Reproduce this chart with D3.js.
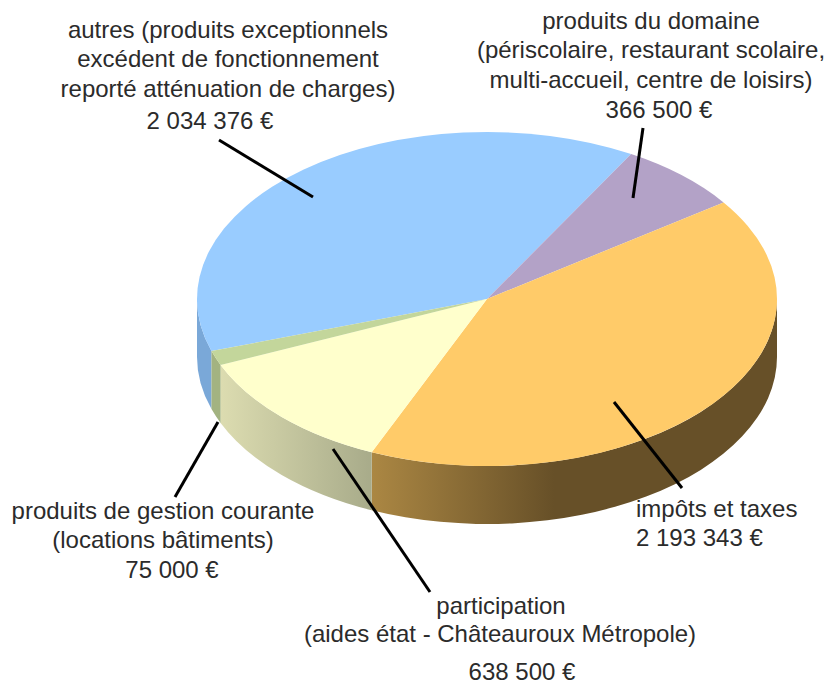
<!DOCTYPE html>
<html>
<head>
<meta charset="utf-8">
<script src="https://cdn.jsdelivr.net/npm/d3@7"></script>
<style>
    html, body { margin: 0; padding: 0; background: #fff; }
    text { font-family: "Liberation Sans", Arial, sans-serif; font-size: 24px; fill: #2b2b2b; }
</style>
</head>
<body>
<div id="chart"></div>
<script>
// values, clockwise from the blue slice
const categories = ["autres", "produits du domaine", "impôts et taxes", "participation", "produits de gestion courante"];
const values = [2034376, 366500, 2193343, 638500, 75000];
const topColors = ["#99ccff", "#b3a2c7", "#ffcb69", "#ffffcc", "#c3d69b"];

// rim colours run left to right across each slice
const rimStops = [
    [[0, "#7aa8d8"], [1, "#7aa8d8"]],
    [[0, "#8f82a0"], [1, "#8f82a0"]],
    [[0, "#ab8743"], [0.45, "#675028"], [1, "#675028"]],
    [[0, "#dcdcb0"], [1, "#a8ab8a"]],
    [[0, "#a3b381"], [1, "#a3b381"]]
];

const labelLines = [
    ["autres (produits exceptionnels", "excédent de fonctionnement", "reporté atténuation de charges)", "2 034 376 €"],
    ["produits du domaine", "(périscolaire, restaurant scolaire,", "multi-accueil, centre de loisirs)", "366 500 €"],
    ["impôts et taxes", "2 193 343 €"],
    ["participation", "(aides état - Châteauroux Métropole)", "638 500 €"],
    ["produits de gestion courante", "(locations bâtiments)", "75 000 €"]
];

const width = 840, height = 683;
const cx = 487, cy = 299, rx = 290, ry = 167, depth = 58;
const startDeg = 29.8;

const svg = d3.select("#chart").append("svg")
    .attr("width", width)
    .attr("height", height)
    .style("display", "block");

const pie = d3.pie().sort(null)
    .startAngle(startDeg * Math.PI / 180)
    .endAngle((startDeg + 360) * Math.PI / 180);
const slices = pie(values.slice(1).concat(values[0]));
// pie starts at the purple slice, so put the blue one back in first place
const arcs = [slices[4]].concat(slices.slice(0, 4));

const px = a => cx + rx * Math.sin(a);
const py = a => cy - ry * Math.cos(a);

const defs = svg.append("defs");
const x = d3.scaleLinear().domain([-1, 1]).range([cx - rx, cx + rx]);

// the rim only shows on the front half of the ellipse
function rimRange(d) {
    const a0 = Math.max(d.startAngle, Math.PI / 2);
    const a1 = Math.min(d.endAngle, 3 * Math.PI / 2);
    return a0 < a1 ? [a0, a1] : null;
}

function rimPath(r) {
    const [a0, a1] = r;
    return `M${px(a0)},${py(a0)}`
        + `A${rx},${ry} 0 0 1 ${px(a1)},${py(a1)}`
        + `L${px(a1)},${py(a1) + depth}`
        + `A${rx},${ry} 0 0 0 ${px(a0)},${py(a0) + depth}Z`;
}

const rims = svg.append("g");
arcs.forEach((d, i) => {
    const r = rimRange(d);
    if (!r) return;
    const xs = [x(Math.sin(r[0])), x(Math.sin(r[1]))];
    const grad = defs.append("linearGradient")
        .attr("id", "rim" + i)
        .attr("gradientUnits", "userSpaceOnUse")
        .attr("x1", d3.min(xs)).attr("x2", d3.max(xs))
        .attr("y1", 0).attr("y2", 0);
    rimStops[i].forEach(s => {
        grad.append("stop").attr("offset", s[0]).attr("stop-color", s[1]);
    });
    rims.append("path")
        .attr("d", rimPath(r))
        .attr("fill", `url(#rim${i})`);
});

// top face, a flat pie squashed into an ellipse
const arc = d3.arc().innerRadius(0).outerRadius(rx);
svg.append("g")
    .attr("transform", `translate(${cx},${cy}) scale(1,${ry / rx})`)
    .selectAll("path")
    .data(arcs)
    .enter().append("path")
    .attr("d", arc)
    .attr("fill", (d, i) => topColors[i]);

// leader lines
const leaders = [
    [219, 140, 313, 197],
    [643, 128, 633, 198],
    [614, 402, 682, 488],
    [333, 449, 430, 592],
    [218, 422, 175, 497]
];
svg.append("g").selectAll("line")
    .data(leaders)
    .enter().append("line")
    .attr("x1", d => d[0]).attr("y1", d => d[1])
    .attr("x2", d => d[2]).attr("y2", d => d[3])
    .attr("stroke", "#000")
    .attr("stroke-width", 3);

// labels: one entry per line as x, baseline
const labelPos = [
    [[228, 38], [228, 67], [228, 97], [210, 129]],
    [[651, 29], [651, 58], [651, 88], [659, 118]],
    [[636, 517], [636, 546]],
    [[501, 614], [500, 642], [522, 680]],
    [[163, 519], [163, 548], [172, 578]]
];
labelLines.forEach((lines, i) => {
    lines.forEach((t, j) => {
        svg.append("text")
            .attr("x", labelPos[i][j][0])
            .attr("y", labelPos[i][j][1])
            .attr("text-anchor", i === 2 ? "start" : "middle")
            .text(t);
    });
});
</script>
</body>
</html>
